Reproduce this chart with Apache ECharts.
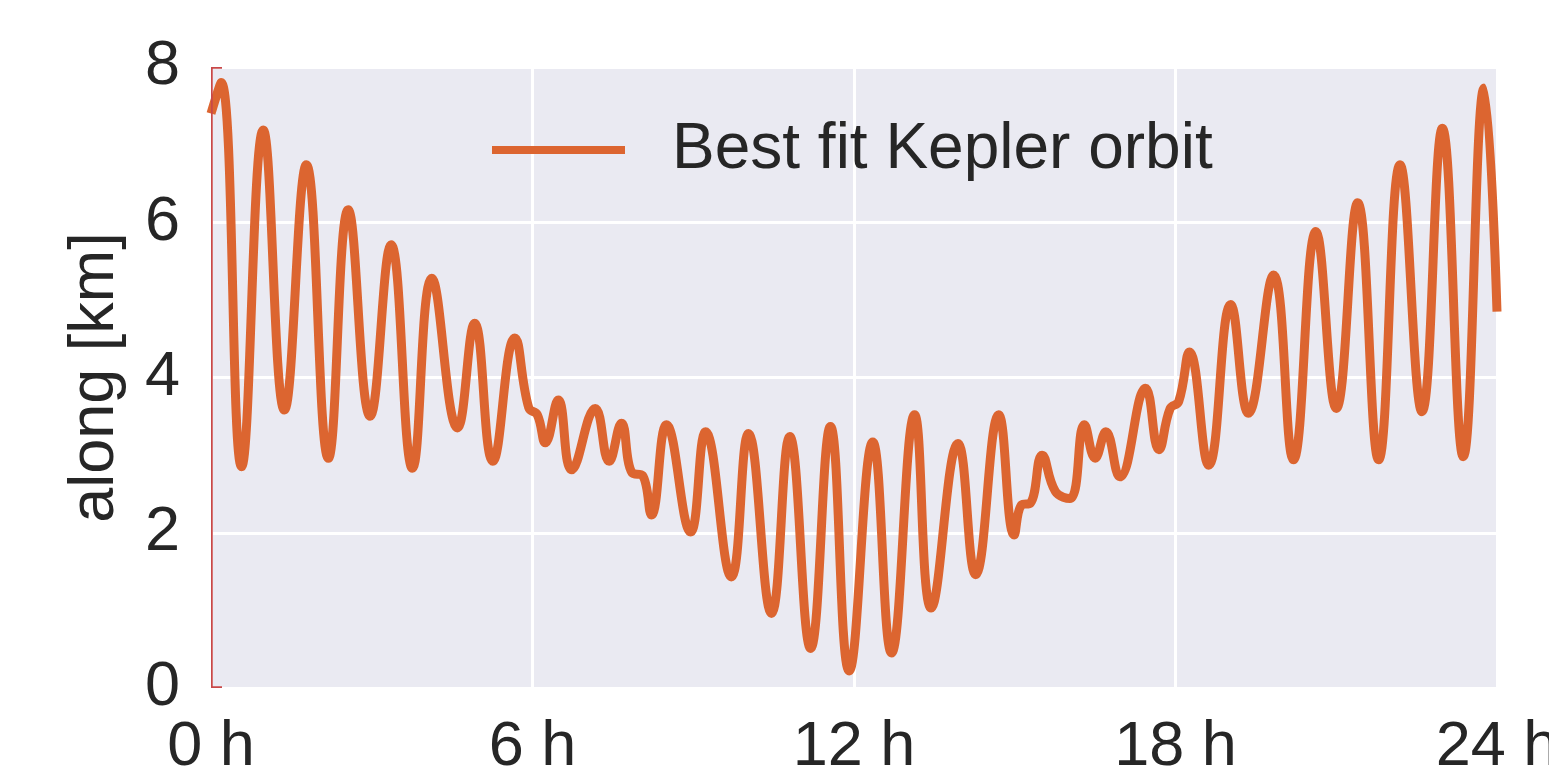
<!DOCTYPE html>
<html>
<head>
<meta charset="utf-8">
<title>along</title>
<script src="https://cdn.jsdelivr.net/npm/echarts@6/dist/echarts.min.js"></script>
<style>
	html,body{margin:0;padding:0;background:#fff;}
	#chart{width:1549px;height:778px;}
</style>
</head>
<body>
<div id="chart"></div>
<script>
	// 时间 (h) 与 along 偏差 (km)，按图中的峰谷读取
	const hours = [
		0, 0.19, 0.57, 0.975, 1.37, 1.78, 2.19, 2.56, 2.97, 3.36, 3.76, 4.12, 4.6, 4.92, 5.26, 5.67,
		5.93, 6.09, 6.24, 6.48, 6.73, 7.17, 7.43, 7.66, 7.86, 8.05, 8.22, 8.5, 8.95, 9.23, 9.71,
		10.03, 10.46, 10.8, 11.19, 11.56, 11.91, 12.35, 12.7, 13.13, 13.44, 13.94, 14.27, 14.7, 14.99,
		15.13, 15.29, 15.51, 15.76, 16.03, 16.3, 16.5, 16.7, 16.96, 17.44, 17.69, 17.9, 18.06,
		18.26, 18.62, 19.03, 19.36, 19.83, 20.2, 20.62, 21.0, 21.4, 21.79, 22.19, 22.6, 22.98, 23.37, 23.76, 24.0
	]
	const along = [
		7.4, 7.8, 2.85, 7.19, 3.58, 6.74, 2.96, 6.16, 3.5, 5.71, 2.83, 5.28, 3.35, 4.7, 2.92, 4.51,
		3.61, 3.52, 3.16, 3.71, 2.81, 3.6, 2.92, 3.41, 2.77, 2.74, 2.23, 3.39, 2.01, 3.3, 1.43,
		3.28, 0.96, 3.24, 0.51, 3.37, 0.22, 3.17, 0.45, 3.52, 1.03, 3.15, 1.46, 3.52, 1.97,
		2.36, 2.38, 3.0, 2.53, 2.44, 3.39, 2.96, 3.3, 2.72, 3.86, 3.07, 3.6, 3.69,
		4.33, 2.87, 4.94, 3.54, 5.32, 2.94, 5.88, 3.6, 6.25, 2.94, 6.74, 3.56, 7.21, 2.98, 7.73, 4.85
	]
	// 误差棒：x, 下限, 上限
	const errX = [0]
	const errLow = [0]
	const errHigh = [8]
	const xTicks = [0, 6, 12, 18, 24]
	const yTicks = [0, 2, 4, 6, 8]
	const seriesName = 'Best fit Kepler orbit'

	const lineData = hours.map((h, i) => [h, along[i]])
	const errData = errX.map((x, i) => [x, errLow[i], errHigh[i]])

	const font = '"Liberation Sans", Arial, sans-serif'
	const txt = '#262626'

	const myChart = echarts.init(document.getElementById('chart'), null, {renderer: 'canvas'})
	const option = {
		animation: false,
		grid: {
			left: 211,
			right: 52,
			top: 67,
			bottom: 90,
			outerBoundsMode: 'none',
			show: true,
			backgroundColor: '#EAEAF2',
			borderWidth: 0
		},
		legend: {
			data: [seriesName],
			left: 487,
			top: 113,
			icon: 'rect',
			itemWidth: 133,
			itemHeight: 8,
			textStyle: {
				fontFamily: font,
				fontSize: 64,
				color: txt,
				padding: [0, 0, 0, 42]
			}
		},
		xAxis: {
			type: 'value',
			min: xTicks[0],
			max: xTicks[xTicks.length - 1],
			interval: xTicks[1] - xTicks[0],
			axisLine: {show: false},
			axisTick: {show: false},
			splitLine: {lineStyle: {color: '#fff', width: 3}},
			axisLabel: {
				formatter: '{value} h',
				fontFamily: font,
				fontSize: 63,
				color: txt,
				margin: 28
			}
		},
		yAxis: {
			type: 'value',
			min: yTicks[0],
			max: yTicks[yTicks.length - 1],
			interval: yTicks[1] - yTicks[0],
			name: 'along [km]',
			nameLocation: 'middle',
			nameGap: 84,
			nameTextStyle: {fontFamily: font, fontSize: 63, color: txt},
			axisLine: {show: false},
			axisTick: {show: false},
			splitLine: {lineStyle: {color: '#fff', width: 3}},
			axisLabel: {
				fontFamily: font,
				fontSize: 63,
				color: txt,
				margin: 31
			}
		},
		series: [{
			name: seriesName,
			type: 'line',
			data: lineData,
			smooth: 0.45,
			showSymbol: false,
			color: '#DC6530',
			lineStyle: {width: 9, color: '#DC6530'},
			z: 3
		}, {
			// 左侧红色误差棒
			type: 'custom',
			data: errData,
			clip: true,
			encode: {x: 0, y: [1, 2]},
			z: 4,
			renderItem: (params, api) => {
				const lo = api.coord([api.value(0), api.value(1)])
				const hi = api.coord([api.value(0), api.value(2)])
				const cap = 11
				const st = {stroke: '#C84848', lineWidth: 3.5}
				return {
					type: 'group',
					children: [
						{type: 'line', shape: {x1: lo[0], y1: lo[1], x2: hi[0], y2: hi[1]}, style: st},
						{type: 'line', shape: {x1: lo[0] - cap, y1: lo[1], x2: lo[0] + cap, y2: lo[1]}, style: st},
						{type: 'line', shape: {x1: hi[0] - cap, y1: hi[1], x2: hi[0] + cap, y2: hi[1]}, style: st}
					]
				}
			}
		}]
	}
	myChart.setOption(option)
</script>
</body>
</html>
